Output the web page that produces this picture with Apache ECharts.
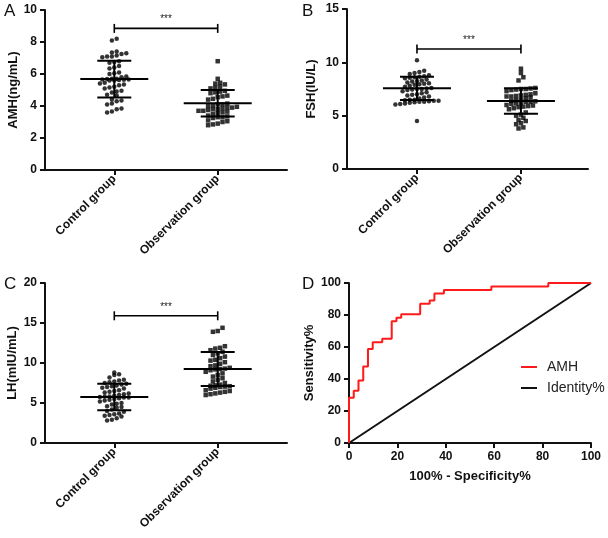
<!DOCTYPE html>
<html><head><meta charset="utf-8">
<script src="https://cdn.jsdelivr.net/npm/echarts@6/dist/echarts.min.js"></script>
<style>html,body{margin:0;padding:0;background:#fff}#c{width:608px;height:538px}</style>
</head><body><div id="c"></div>
<script>
// ---------------- DATA ----------------
const categories = ['Control group', 'Observation group'];

const amhControl = [8.2, 8.1, 7.4, 7.35, 7.3, 7.25, 7.15, 7.1, 7.1, 7.05, 6.8, 6.75, 6.7, 6.5, 6.4, 6.35, 6.1, 6.05, 6.0, 5.85, 5.8, 5.7, 5.7, 5.68, 5.66, 5.65, 5.64, 5.62, 5.6, 5.6, 5.45, 5.4, 5.35, 5.3, 5.2, 5.15, 5.1, 4.95, 4.9, 4.85, 4.7, 4.65, 4.4, 4.35, 4.3, 4.15, 4.1, 3.85, 3.8, 3.65, 3.6];
const amhObs = [6.8, 5.7, 5.45, 5.4, 5.35, 5.2, 5.15, 5.1, 4.95, 4.9, 4.85, 4.8, 4.65, 4.6, 4.55, 4.45, 4.4, 4.15, 4.1, 4.1, 4.05, 4.0, 3.95, 3.9, 3.9, 3.85, 3.8, 3.8, 3.75, 3.7, 3.7, 3.65, 3.6, 3.55, 3.5, 3.4, 3.35, 3.3, 3.3, 3.25, 3.1, 3.05, 3.0, 2.9, 2.85, 2.8];
const amhMean = [5.68, 4.17];
const amhSD = [1.15, 0.83];

const fshControl = [10.2, 9.2, 9.1, 9.0, 8.9, 8.8, 8.7, 8.65, 8.6, 8.55, 8.5, 8.4, 8.3, 8.25, 8.2, 8.1, 8.05, 8.0, 7.95, 7.9, 7.8, 7.7, 7.6, 7.55, 7.5, 7.5, 7.45, 7.4, 7.3, 7.2, 7.1, 7.0, 6.95, 6.9, 6.8, 6.7, 6.6, 6.5, 6.5, 6.45, 6.4, 6.4, 6.35, 6.3, 6.3, 6.25, 6.2, 6.15, 6.1, 6.05, 4.5];
const fshObs = [9.4, 9.0, 8.6, 8.3, 7.6, 7.55, 7.5, 7.5, 7.45, 7.4, 7.3, 7.1, 7.0, 6.95, 6.9, 6.85, 6.8, 6.8, 6.7, 6.6, 6.5, 6.45, 6.4, 6.35, 6.3, 6.3, 6.2, 6.15, 6.1, 6.0, 5.95, 5.9, 5.85, 5.8, 5.7, 5.6, 5.3, 5.1, 5.0, 4.8, 4.6, 4.5, 4.3, 4.2, 3.9, 3.8];
const fshMean = [7.56, 6.37];
const fshSD = [1.08, 1.2];

const lhControl = [8.8, 8.6, 8.5, 8.2, 7.9, 7.8, 7.7, 7.6, 7.5, 7.4, 7.3, 7.2, 7.1, 7.0, 6.9, 6.8, 6.6, 6.5, 6.4, 6.3, 6.2, 6.1, 6.0, 5.9, 5.8, 5.8, 5.75, 5.7, 5.7, 5.6, 5.5, 5.4, 5.3, 5.2, 5.0, 4.9, 4.8, 4.6, 4.5, 4.4, 4.2, 4.0, 3.9, 3.7, 3.6, 3.5, 3.4, 3.3, 3.1, 2.9, 2.8];
const lhObs = [14.4, 14.0, 13.9, 12.1, 11.9, 11.8, 11.6, 11.4, 11.2, 11.0, 10.8, 10.6, 10.4, 10.3, 10.1, 9.9, 9.7, 9.6, 9.4, 9.3, 9.25, 9.2, 9.1, 8.9, 8.7, 8.5, 8.3, 8.1, 7.9, 7.7, 7.5, 7.3, 7.2, 7.15, 7.1, 7.05, 7.0, 6.9, 6.8, 6.6, 6.5, 6.4, 6.3, 6.2, 6.1, 6.0];
const lhMean = [5.75, 9.25];
const lhSD = [1.65, 2.13];

const sigLevels = [8.85, 11.25, 15.9];
const sigText = '***';

const yTicksA = [0, 10, 2];
const yTicksB = [0, 15, 5];
const yTicksC = [0, 20, 5];

const rocX = [0, 0, 1.96, 1.96, 3.92, 3.92, 5.88, 5.88, 7.84, 7.84, 9.8, 9.8, 13.73, 13.73, 17.65, 17.65, 19.61, 19.61, 21.57, 21.57, 29.41, 29.41, 33.33, 33.33, 35.29, 35.29, 39.22, 39.22, 58.82, 58.82, 82.35, 82.35, 100];
const rocY = [0, 28.26, 28.26, 32.61, 32.61, 39.13, 39.13, 47.83, 47.83, 58.7, 58.7, 63.04, 63.04, 65.22, 65.22, 76.09, 76.09, 78.26, 78.26, 80.43, 80.43, 86.96, 86.96, 89.13, 89.13, 93.48, 93.48, 95.65, 95.65, 97.83, 97.83, 100, 100];
const identityX = [0, 100];
const identityY = [0, 100];

// ---------------- LAYOUT ----------------
const FONT = 'Liberation Sans, Arial, sans-serif';
const X_MIN = 0.33, X_MAX = 2.67;
const panels = [
  {left: 45, top: 10, width: 242, height: 160, y: yTicksA, name: 'AMH(ng/mL)', gap: 23, ctrl: amhControl, obs: amhObs, mean: amhMean, sd: amhSD, sig: sigLevels[0], xmin: X_MIN, xmax: X_MAX},
  {left: 347, top: 9, width: 241, height: 160, y: yTicksB, name: 'FSH(IU/L)', gap: 29, ctrl: fshControl, obs: fshObs, mean: fshMean, sd: fshSD, sig: sigLevels[1], xmin: 0.327, xmax: 2.645},
  {left: 45, top: 283, width: 242, height: 160, y: yTicksC, name: 'LH(mIU/mL)', gap: 26, ctrl: lhControl, obs: lhObs, mean: lhMean, sd: lhSD, sig: sigLevels[2], xmin: X_MIN, xmax: X_MAX}
];

function swarm(values, center, p) {
  const pxPerX = p.width / (p.xmax - p.xmin);
  const pxPerY = p.height / (p.y[1] - p.y[0]);
  const rowSize = 4.0 / pxPerY;
  const dx = 4.8 / pxPerX;
  const sorted = values.slice().sort((a, b) => a - b);
  const rows = [];
  let cur = [];
  sorted.forEach(v => {
    if (cur.length && v - cur[0] > rowSize) { rows.push(cur); cur = []; }
    cur.push(v);
  });
  if (cur.length) rows.push(cur);
  const out = [];
  rows.forEach(r => {
    const n = r.length;
    r.forEach((v, i) => out.push([center + (i - (n - 1) / 2) * dx, v]));
  });
  return out;
}

function renderMeanSD(params, api) {
  const x = api.value(0), m = api.value(1), s = api.value(2);
  const c = api.coord([x, m]), hi = api.coord([x, m + s]), lo = api.coord([x, m - s]);
  const st = {stroke: '#000', lineWidth: 2};
  return {type: 'group', children: [
    {type: 'line', shape: {x1: c[0] - 34, y1: c[1], x2: c[0] + 34, y2: c[1]}, style: st},
    {type: 'line', shape: {x1: c[0], y1: hi[1], x2: c[0], y2: lo[1]}, style: st},
    {type: 'line', shape: {x1: c[0] - 17, y1: hi[1], x2: c[0] + 17, y2: hi[1]}, style: st},
    {type: 'line', shape: {x1: c[0] - 17, y1: lo[1], x2: c[0] + 17, y2: lo[1]}, style: st}
  ]};
}

function renderBracket(params, api) {
  const a = api.coord([api.value(0), api.value(2)]);
  const b = api.coord([api.value(1), api.value(2)]);
  const st = {stroke: '#000', lineWidth: 1.6};
  return {type: 'group', children: [
    {type: 'line', shape: {x1: a[0], y1: a[1], x2: b[0], y2: b[1]}, style: st},
    {type: 'line', shape: {x1: a[0], y1: a[1] - 4.5, x2: a[0], y2: a[1] + 4.5}, style: st},
    {type: 'line', shape: {x1: b[0], y1: b[1] - 4.5, x2: b[0], y2: b[1] + 4.5}, style: st},
    {type: 'text', x: (a[0] + b[0]) / 2, y: a[1] - 4, style: {text: sigText, fill: '#222', font: '10px ' + FONT, textAlign: 'center', textVerticalAlign: 'bottom'}}
  ]};
}

const grid = [], xAxis = [], yAxis = [], series = [];
const axisLineStyle = {color: '#111', width: 2};
panels.forEach((p, i) => {
  grid.push({left: p.left, top: p.top, width: p.width, height: p.height, containLabel: false});
  xAxis.push({
    gridIndex: i, type: 'value', min: p.xmin, max: p.xmax,
    axisLine: {show: true, onZero: false, lineStyle: axisLineStyle},
    axisTick: {show: true, customValues: [1, 2], length: 5, lineStyle: axisLineStyle},
    axisLabel: {show: true, customValues: [1, 2], formatter: v => categories[Math.round(v) - 1], rotate: 45, margin: 7,
      fontFamily: FONT, fontWeight: 'bold', fontSize: 12, color: '#111'},
    splitLine: {show: false}
  });
  yAxis.push({
    gridIndex: i, type: 'value', min: p.y[0], max: p.y[1], interval: p.y[2],
    name: p.name, nameLocation: 'middle', nameGap: p.gap, nameRotate: 90,
    nameTextStyle: {fontFamily: FONT, fontWeight: 'bold', fontSize: 13, color: '#111'},
    axisLine: {show: true, lineStyle: axisLineStyle},
    axisTick: {show: true, length: 5, lineStyle: axisLineStyle},
    axisLabel: {margin: 8, fontFamily: FONT, fontWeight: 'bold', fontSize: 12, color: '#111'},
    splitLine: {show: false}
  });
  series.push({type: 'scatter', xAxisIndex: i, yAxisIndex: i, symbol: 'circle', symbolSize: 4.5,
    itemStyle: {color: '#000'}, data: swarm(p.ctrl, 1, p), silent: true, z: 2});
  series.push({type: 'scatter', xAxisIndex: i, yAxisIndex: i, symbol: 'rect', symbolSize: 4.5,
    itemStyle: {color: '#000'}, data: swarm(p.obs, 2, p), silent: true, z: 2});
  series.push({type: 'custom', xAxisIndex: i, yAxisIndex: i, renderItem: renderMeanSD, z: 3,
    encode: {x: 0, y: 1}, data: [[1, p.mean[0], p.sd[0]], [2, p.mean[1], p.sd[1]]], silent: true});
  series.push({type: 'custom', xAxisIndex: i, yAxisIndex: i, renderItem: renderBracket, z: 3,
    encode: {x: [0, 1], y: 2}, data: [[1, 2, p.sig]], silent: true});
});

// Panel D (ROC)
grid.push({left: 349, top: 283, width: 242, height: 160});
xAxis.push({gridIndex: 3, type: 'value', min: 0, max: 100, interval: 20,
  name: '100% - Specificity%', nameLocation: 'middle', nameGap: 27,
  nameTextStyle: {fontFamily: FONT, fontWeight: 'bold', fontSize: 13, color: '#111'},
  axisLine: {show: true, lineStyle: axisLineStyle},
  axisTick: {show: true, length: 5, lineStyle: axisLineStyle},
  axisLabel: {margin: 8, fontFamily: FONT, fontWeight: 'bold', fontSize: 12, color: '#111'},
  splitLine: {show: false}});
yAxis.push({gridIndex: 3, type: 'value', min: 0, max: 100, interval: 20,
  name: 'Sensitivity%', nameLocation: 'middle', nameGap: 33, nameRotate: 90,
  nameTextStyle: {fontFamily: FONT, fontWeight: 'bold', fontSize: 13, color: '#111'},
  axisLine: {show: true, lineStyle: axisLineStyle},
  axisTick: {show: true, length: 5, lineStyle: axisLineStyle},
  axisLabel: {margin: 8, fontFamily: FONT, fontWeight: 'bold', fontSize: 12, color: '#111'},
  splitLine: {show: false}});
series.push({name: 'AMH', type: 'line', xAxisIndex: 3, yAxisIndex: 3, symbol: 'none',
  lineStyle: {color: '#ff1a1a', width: 2}, itemStyle: {color: '#ff1a1a'},
  data: rocX.map((x, k) => [x, rocY[k]]), z: 3});
series.push({name: 'Identity%', type: 'line', xAxisIndex: 3, yAxisIndex: 3, symbol: 'none',
  lineStyle: {color: '#111', width: 2}, itemStyle: {color: '#111'},
  data: identityX.map((x, k) => [x, identityY[k]]), z: 2});

const letterStyle = {fontFamily: FONT, fontWeight: 'normal', fontSize: 17, color: '#111'};
const option = {
  backgroundColor: '#fff',
  animation: false,
  title: [
    {text: 'A', left: 4, top: 3, padding: 0, textStyle: letterStyle},
    {text: 'B', left: 302, top: 3, padding: 0, textStyle: letterStyle},
    {text: 'C', left: 4, top: 276, padding: 0, textStyle: letterStyle},
    {text: 'D', left: 302, top: 276, padding: 0, textStyle: letterStyle}
  ],
  legend: {data: ['AMH', 'Identity%'], orient: 'vertical', left: 521, top: 359, icon: 'rect', itemWidth: 16, itemHeight: 2,
    itemGap: 5, padding: 0, textStyle: {fontFamily: FONT, fontSize: 14, color: '#222', padding: [0, 0, 0, 5], lineHeight: 16}},
  grid, xAxis, yAxis, series
};
const chart = echarts.init(document.getElementById('c'));
chart.setOption(option);
</script></body></html>
